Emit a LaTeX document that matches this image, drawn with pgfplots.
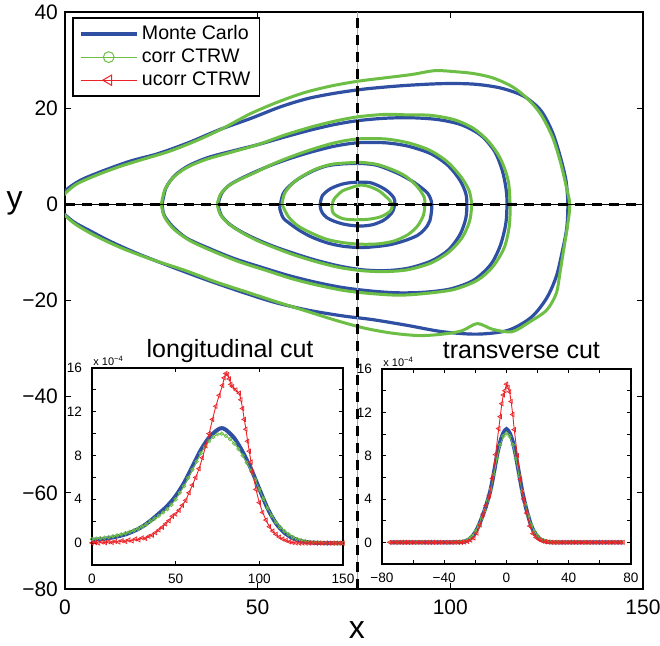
\documentclass[border=0pt]{standalone}
\usepackage{fontspec}
\setmainfont{Liberation Sans}
\usepackage{pgfplots}
\pgfplotsset{compat=1.18}
\usetikzlibrary{calc}
\definecolor{mcblue}{HTML}{2F4FA2}
\definecolor{cgreen}{HTML}{6DBE45}
\definecolor{ured}{HTML}{EC2227}

\pgfplotsset{
  contourB/.style={forget plot, mcblue, line width=1.6pt, smooth},
  contourG/.style={forget plot, cgreen, line width=1.5pt, smooth},
  insetaxis/.style={
    scale only axis, ymin=-2, ymax=16,
    ytick={0,2,...,16}, yticklabels={0,,4,,8,,12,,16},
    tick align=inside, major tick length=2pt,
    tick style={black, line width=0.4pt},
    axis line style={line width=0.6pt},
    axis background/.style={fill=white},
    ticklabel style={font=\fontsize{6.8}{8}\selectfont},
    xticklabel style={yshift=-1.2pt},
    yticklabel style={xshift=-1.5pt},
    title style={font=\fontsize{12.5}{14}\selectfont, anchor=base, yshift=-1pt},
    clip mode=individual,
  },
  mcline/.style={mcblue, line width=2pt, smooth},
  corrline/.style={cgreen, line width=0.4pt, mark=o, mark size=0.9pt, mark options={line width=0.35pt}},
  ucorrline/.style={ured, line width=0.45pt, mark=triangle, mark size=1.2pt, mark options={rotate=90, line width=0.35pt}},
}

\begin{document}
\begin{tikzpicture}
\begin{axis}[
  name=main, at={(0,0)}, anchor=south west,
  scale only axis, width=289pt, height=288.5pt,
  xmin=0, xmax=150, ymin=-80, ymax=40,
  xtick={0,50,100,150}, xticklabels={0,50,100,150},
  ytick={-80,-60,...,40}, yticklabels={−80,−60,−40,−20,0,20,40},
  tick align=inside, major tick length=3pt,
  tick style={black, line width=0.5pt},
  axis line style={line width=0.6pt},
  ticklabel style={font=\fontsize{10.5}{12}\selectfont},
  xticklabel style={yshift=-2pt},
  xlabel={x}, ylabel={y},
  xlabel style={font=\fontsize{16}{16}\selectfont, at={(axis description cs:0.505,0)}, anchor=center, yshift=-20.5pt},
  ylabel style={font=\fontsize{16}{16}\selectfont, at={(axis description cs:-0.087,0.669)}, anchor=center, rotate=-90},
  clip mode=individual,
  legend style={at={(0.012,0.991)}, anchor=north west, draw=black, line width=0.8pt, fill=white,
    font=\fontsize{9.8}{11}\selectfont, inner xsep=3pt, inner ysep=2pt, row sep=0pt,
    nodes={inner sep=1.6pt}, cells={anchor=west}},
  legend image code/.code={\draw[mark repeat=2, mark phase=2, #1] plot coordinates {(0pt,0pt) (14pt,0pt) (28pt,0pt)};},
]
\addlegendimage{mcblue, line width=2pt}
\addlegendentry{Monte Carlo}
\addlegendimage{cgreen, line width=0.5pt, mark=o, mark size=2.7pt, mark options={line width=0.5pt}}
\addlegendentry{corr CTRW}
\addlegendimage{ured, line width=0.5pt, mark=triangle, mark size=3pt, mark options={rotate=90, line width=0.5pt}}
\addlegendentry{ucorr CTRW}

% Monte Carlo contours
\addplot[contourB] coordinates {(-3,0) (0,2.8) (4,5) (10,7) (17,9) (24,10.5) (32,12.8) (40,15.5) (48,17.8) (56,20.3) (63,22) (70,23.1) (78,24) (88,24.7) (98,25.1) (106,25) (113,24.2) (119,22.5) (123.5,19.5) (126.5,15) (128.5,10) (130,5) (130.5,0) (130.2,-5) (129,-10) (127.5,-15) (125,-19.5) (121,-23.5) (115,-26.2) (107,-27) (98,-26.5) (89,-25.2) (80,-24) (72,-23.2) (63,-22) (54,-20.3) (45,-18) (36,-15.5) (27,-12.8) (19,-10.3) (12,-7.8) (6,-5.3) (2,-3.5) (-3,0)};
\addplot[contourB] coordinates {(25.2,0) (26.2,3.4) (28.5,6) (32,8) (37,9.7) (43,11) (50,12.4) (57,14) (64,15.5) (70,16.6) (76,17.4) (83,17.9) (90,18) (97,17.6) (103,16.5) (108,14.3) (111.5,11) (113.5,7) (114.5,3) (114.7,0) (114.4,-4) (113,-8.5) (110.5,-12.5) (106,-15.8) (100,-17.6) (93,-18.3) (86,-18.4) (79,-18) (72,-17.3) (65,-16.2) (58,-14.8) (51,-13.1) (44,-11.3) (37.5,-9.2) (31.5,-7) (27.8,-4.5) (25.7,-2.2) (25.2,0)};
\addplot[contourB] coordinates {(39.7,0) (40.6,2.2) (42.5,3.9) (45.5,5.3) (49.5,6.8) (54,8.3) (59,9.7) (64,10.9) (70,12.1) (76,12.8) (83,12.8) (89,12.1) (95,10.5) (99.5,8) (102.5,5) (104,2.3) (104.3,0) (104,-3) (102.5,-6.3) (99.5,-9.5) (95,-11.8) (89,-13.3) (83,-13.8) (77,-13.6) (71,-12.8) (65,-11.6) (59,-10.1) (54,-8.7) (49.5,-7.2) (45.5,-5.6) (42.5,-4) (40.5,-2.2) (39.7,0)};
\addplot[contourB] coordinates {(55.7,-0.8) (56.6,2.2) (58.5,4) (61,5.5) (64.5,7) (68,8) (72,8.4) (76.5,8.5) (81,8.1) (86.2,6.5) (89.5,5.1) (91.6,4) (94.2,2.2) (95.2,0) (94.7,-3.4) (93.3,-5.2) (91.4,-6.5) (88,-7.6) (84.3,-8.4) (80.5,-8.8) (76.6,-9) (72,-8.7) (68,-8) (64,-6.8) (61,-5.5) (58.5,-4.1) (56.6,-2.8) (55.7,-0.8)};
\addplot[contourB] coordinates {(66.2,0) (66.8,1.8) (68.8,3.2) (71.5,4.1) (74,4.5) (76.6,4.6) (79.2,4.5) (81.5,3.8) (83.6,2.8) (85.3,1.4) (85.6,0.2) (85.1,-1.4) (84,-2.5) (82.5,-3.4) (80,-4.2) (77.3,-4.5) (74.5,-4.4) (72.2,-4.1) (69.8,-3.5) (68,-2.8) (66.8,-1.8) (66.3,-0.8) (66.2,0)};

% corr CTRW contours
\addplot[contourG] coordinates {(-2,0) (0,2.2) (3,4.2) (8,6) (14,7.8) (20,9.3) (27,11) (34,13.2) (41,15.8) (48,18.8) (55,21.2) (62,23.2) (69,24.6) (76,25.6) (83,26.3) (90,27) (96,27.8) (101,27.6) (106,27.2) (111,26.3) (116,24.5) (120,22) (123.5,18.7) (126.5,14) (128.5,9) (130,4) (131,0) (130.5,-4) (129.5,-9) (128.5,-14) (127.5,-18.5) (125,-22) (120.5,-24.5) (116,-26.5) (111,-26) (107,-24.8) (103,-26.3) (98,-27) (92,-27.3) (85,-26.8) (78,-25.8) (71,-24.3) (63,-22.3) (55,-20.3) (47,-18.2) (39,-16.1) (31,-13.7) (23,-11.6) (15,-9.2) (8,-6.6) (3,-4.3) (0,-2.3) (-2,0)};
\addplot[contourG] coordinates {(25,0) (25.9,3) (28,5.5) (31.5,7.6) (36.5,9.3) (43,10.8) (50,12.4) (57,14.4) (64,16.1) (70,17.3) (76,18.2) (83,18.7) (89,18.6) (95,18.5) (101,17.6) (106,15.8) (110,13) (113,9.5) (115,5) (115.5,0) (115.3,-4.5) (114,-9) (111,-13) (107,-15.8) (101,-17.7) (94,-18.5) (87,-18.9) (80,-18.6) (73,-18) (66,-16.9) (59,-15.5) (52,-13.7) (45,-11.9) (38.5,-9.8) (32.5,-7.6) (28.3,-5.2) (25.8,-2.6) (25,0)};
\addplot[contourG] coordinates {(39.5,0) (40.3,2) (42.2,3.7) (45.2,5.1) (49.3,6.6) (54,8.4) (59,10) (64,11.4) (70,12.8) (76,13.6) (83,13.6) (89,12.8) (94.5,11.3) (99,9) (102.5,6) (104.8,3) (105.5,0) (105,-3.5) (103,-7) (99.5,-10) (95,-12.2) (89,-13.6) (83,-14) (77,-13.8) (71,-13.1) (65,-11.9) (59,-10.4) (54,-8.9) (49.5,-7.4) (45.5,-5.7) (42.4,-4) (40.3,-2.1) (39.5,0)};
\addplot[contourG] coordinates {(56.3,0) (57,2.3) (59,4.3) (61.5,5.8) (65,7.3) (69,8.3) (73,8.6) (77,8.7) (81,8.3) (85,7.2) (88.5,5.8) (91.5,3.6) (93.2,1.5) (93.4,0) (93,-2.3) (91.5,-4.5) (89,-6.3) (85.5,-7.6) (81.5,-8.2) (77,-8.3) (72.5,-8) (68,-7.3) (64,-6) (60.5,-4.5) (58,-2.6) (56.3,0)};
\addplot[contourG] coordinates {(69.3,-0.3) (69.7,0.9) (70.6,1.8) (72,2.8) (74,3.4) (76.6,4) (78.5,3.8) (80,3.4) (81.7,2.7) (83,1.8) (84.3,0.8) (84.9,-0.3) (84.6,-1.2) (83.8,-1.8) (82.5,-2.4) (81,-2.8) (78.8,-3.1) (76.6,-3.2) (74.5,-3.2) (72.2,-3) (70.7,-2.5) (69.6,-1.8) (69.3,-1) (69.3,-0.3)};

% cut lines
\addplot[forget plot, black, line width=0.4pt] coordinates {(0,0) (150,0)};
\addplot[forget plot, black, line width=1.4pt, dash pattern=on 5pt off 3.5pt] coordinates {(0,0) (150,0)};
\addplot[forget plot, gray!70, line width=0.5pt] coordinates {(76,-80) (76,40)};
\addplot[forget plot, black, line width=1.4pt, dash pattern=on 5pt off 3.5pt] coordinates {(76,-80) (76,40)};
\end{axis}

% longitudinal inset
\begin{axis}[
  insetaxis, name=linset,
  at={($(main.south west)+(13.5pt,12pt)$)}, anchor=south west,
  width=125.5pt, height=98.5pt,
  xmin=0, xmax=150, xtick={0,50,100,150}, xticklabels={0,50,100,150},
  title={longitudinal cut}, title style={at={(0.55,1)}},
]
\addplot[mcline] coordinates {(0,0.3) (5,0.35) (10,0.45) (15,0.6) (20,0.8) (25,1.1) (30,1.5) (35,2.05) (40,2.7) (45,3.4) (50,4.3) (55,5.5) (60,7.0) (65,8.5) (70,9.65) (75,10.35) (77.5,10.5) (80,10.35) (85,9.6) (90,8.35) (95,6.8) (100,4.95) (105,3.15) (110,1.8) (115,0.95) (120,0.45) (125,0.18) (130,0.06) (135,0.02) (140,0) (145,0) (150,0)};
\addplot[corrline] coordinates {(0,0.35) (2.5,0.4) (5,0.45) (7.5,0.5) (10,0.55) (12.5,0.62) (15,0.7) (17.5,0.8) (20,0.9) (22.5,1.02) (25,1.15) (27.5,1.3) (30,1.5) (32.5,1.72) (35,2.0) (37.5,2.25) (40,2.5) (42.5,2.8) (45,3.1) (47.5,3.5) (50,4.0) (52.5,4.6) (55,5.2) (57.5,5.95) (60,6.7) (62.5,7.45) (65,8.2) (67.5,8.8) (70,9.3) (72.5,9.7) (75,9.95) (77.5,10.0) (80,9.8) (82.5,9.5) (85,9.1) (87.5,8.6) (90,8.0) (92.5,7.35) (95,6.6) (97.5,5.8) (100,4.9) (102.5,4.05) (105,3.2) (107.5,2.5) (110,1.9) (112.5,1.45) (115,1.1) (117.5,0.8) (120,0.55) (122.5,0.38) (125,0.25) (127.5,0.16) (130,0.1) (132.5,0.07) (135,0.05) (137.5,0.03) (140,0.02) (142.5,0.01) (145,0) (147.5,0) (150,0)};
\addplot[ucorrline] coordinates {(0,0.02) (2,0.05) (4,0) (6,0.1) (8,0.04) (10,0.12) (12,0.06) (14,0.15) (16,0.1) (18,0.22) (20,0.15) (22,0.28) (24,0.2) (26,0.38) (28,0.3) (30,0.48) (32,0.42) (34,0.62) (36,0.72) (38,0.95) (40,1.2) (42,1.45) (44,1.75) (46,2.05) (48,2.45) (50,2.65) (52,3.0) (54,3.45) (56,3.9) (58,4.6) (60,5.3) (62,6.0) (64,6.8) (66,7.8) (68,8.9) (70,10.0) (72,11.3) (74,12.5) (76,13.5) (78,14.4) (79,15.1) (80,15.5) (81,15.4) (82,15.0) (83,14.5) (84,14.3) (86,14.0) (88,13.7) (89,13.1) (90,12.3) (91,11.3) (92,10.4) (93,9.3) (94,8.4) (95,7.4) (96,6.5) (98,4.9) (100,3.7) (102,2.8) (104,2.1) (106,1.5) (108,1.1) (110,0.8) (112,0.55) (114,0.38) (116,0.25) (118,0.12) (120,0.05) (122,0.02) (124,0) (126,0.01) (128,0) (130,0) (132,0.01) (134,0) (136,0) (138,0) (140,0) (142,0) (144,0) (146,0) (148,0) (150,0)};
\end{axis}

% transverse inset
\begin{axis}[
  insetaxis, name=tinset,
  at={($(main.south west)+(158.5pt,12.5pt)$)}, anchor=south west,
  width=124.5pt, height=97.5pt,
  xmin=-80, xmax=80, xtick={-80,-60,...,80}, xticklabels={−80,,−40,,0,,40,,80},
  title={transverse cut}, title style={at={(0.56,1)}},
]
\addplot[mcline] coordinates {(-75,0) (-40,0) (-32,0.01) (-30,0.02) (-28,0.05) (-26,0.12) (-24,0.28) (-22,0.55) (-20,0.95) (-18,1.5) (-16,2.2) (-14,3.0) (-12,3.9) (-10,5.0) (-8,6.5) (-6,8.1) (-4,9.3) (-2,10.1) (0,10.45) (2,10.1) (4,9.3) (6,8.0) (8,6.4) (10,4.8) (12,3.5) (14,2.4) (16,1.5) (18,0.9) (20,0.5) (22,0.25) (24,0.12) (26,0.05) (28,0.02) (30,0) (40,0) (75,0)};
\addplot[corrline] coordinates {(-74,0) (-70,0) (-66,0) (-62,0) (-58,0) (-54,0) (-50,0) (-46,0) (-42,0) (-38,0) (-34,0.01) (-32,0.02) (-30,0.04) (-28,0.08) (-26,0.16) (-24,0.32) (-22,0.6) (-20,1.0) (-18,1.55) (-16,2.2) (-14,2.95) (-12,3.85) (-10,4.9) (-8,6.3) (-6,7.8) (-4,9.0) (-2,9.8) (0,10.05) (2,9.8) (4,9.0) (6,7.75) (8,6.2) (10,4.75) (12,3.5) (14,2.45) (16,1.6) (18,1.0) (20,0.6) (22,0.32) (24,0.16) (26,0.08) (28,0.04) (30,0.02) (32,0.01) (34,0) (38,0) (42,0) (46,0) (50,0) (54,0) (58,0) (62,0) (66,0) (70,0) (74,0)};
\addplot[ucorrline] coordinates {(-75,0) (-73,0) (-71,0) (-69,0) (-67,0) (-65,0) (-63,0) (-61,0) (-59,0) (-57,0) (-55,0) (-53,0) (-51,0) (-49,0) (-47,0) (-45,0) (-43,0) (-41,0) (-39,0) (-37,0) (-35,0) (-33,0) (-31,0) (-29,0) (-27,0.03) (-25,0.08) (-23,0.2) (-21,0.4) (-19,0.85) (-17,1.6) (-15,2.6) (-13,3.4) (-11,4.3) (-9,5.9) (-7,8.1) (-5,10.5) (-4,11.6) (-3,12.8) (-2,13.6) (-1,14.0) (0,14.6) (1,14.3) (2,13.9) (3,13.0) (4,11.8) (5,10.4) (7,8.0) (9,5.8) (11,4.0) (13,2.7) (15,1.5) (17,0.8) (19,0.45) (21,0.25) (23,0.12) (25,0.05) (27,0.02) (29,0) (31,0) (33,0) (35,0) (37,0) (39,0) (41,0) (43,0) (45,0) (47,0) (49,0) (51,0) (53,0) (55,0) (57,0) (59,0) (61,0) (63,0) (65,0) (67,0) (69,0) (71,0) (73,0) (75,0)};
\end{axis}

\node[anchor=south west, inner sep=0.5pt, font=\fontsize{5.5}{6}\selectfont] at ($(linset.north west)+(0pt,0.5pt)$) {x 10\textsuperscript{−4}};
\node[anchor=south west, inner sep=0.5pt, font=\fontsize{5.5}{6}\selectfont] at ($(tinset.north west)+(0pt,0.5pt)$) {x 10\textsuperscript{−4}};

\pgfresetboundingbox
\path[use as bounding box] ($(main.south west)+(-32.5pt,-28.5pt)$) rectangle ($(main.north east)+(8.5pt,6pt)$);
\end{tikzpicture}
\end{document}
